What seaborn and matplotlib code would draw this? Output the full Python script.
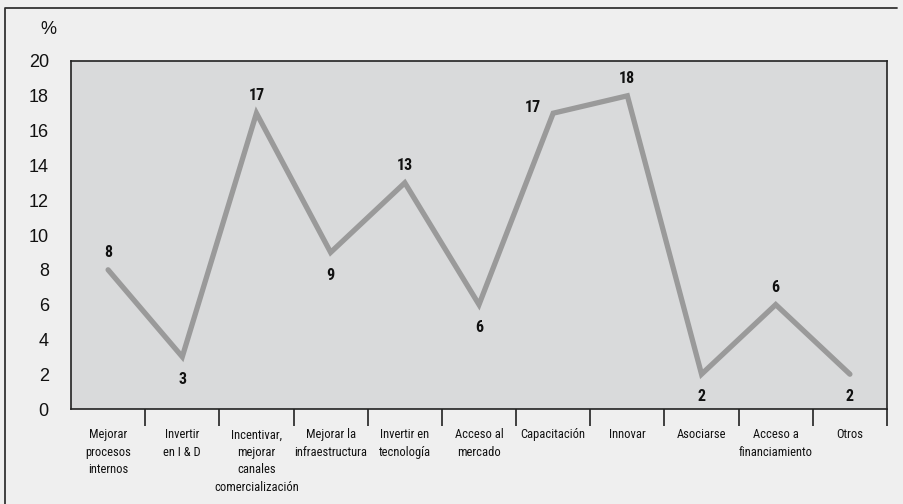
import matplotlib
matplotlib.use("Agg")
import matplotlib.pyplot as plt
from matplotlib.lines import Line2D
from matplotlib import font_manager
import seaborn as sns
import pandas as pd

# Categories and survey percentages
categorias = [
    "Mejorar\nprocesos\ninternos",
    "Invertir\nen I & D",
    "Incentivar,\nmejorar\ncanales\ncomercialización",
    "Mejorar la\ninfraestructura",
    "Invertir en\ntecnología",
    "Acceso al\nmercado",
    "Capacitación",
    "Innovar",
    "Asociarse",
    "Acceso a\nfinanciamiento",
    "Otros",
]
porcentajes = [8, 3, 17, 9, 13, 6, 17, 18, 2, 6, 2]
# Where each value label sits relative to its point
posicion_etiqueta = ["arriba", "abajo", "arriba", "abajo", "arriba", "abajo",
                     "izquierda", "arriba", "abajo", "arriba", "abajo"]
y_ticks = [0, 2, 4, 6, 8, 10, 12, 14, 16, 18, 20]

available = {f.name for f in font_manager.fontManager.ttflist}
narrow = [f for f in ["Liberation Sans Narrow", "Roboto Condensed", "Open Sans Condensed"] if f in available]
label_family = narrow + ["Liberation Sans", "DejaVu Sans"]

sns.set_theme(style="white")
plt.rcParams["font.family"] = ["Liberation Sans", "DejaVu Sans"]

df = pd.DataFrame({"pos": range(len(categorias)), "valor": porcentajes})

fig = plt.figure(figsize=(9.04, 5.04), dpi=100)
fig.patch.set_facecolor("#efefef")
ax = fig.add_axes([71 / 904, 1 - 409 / 504, 816 / 904, 348 / 504])
ax.set_facecolor("#d9dadb")

sns.lineplot(data=df, x="pos", y="valor", ax=ax, color="#9a9a9a",
             linewidth=3.8, solid_joinstyle="miter")

ax.set_xlim(-0.5, len(categorias) - 0.5)
ax.set_ylim(0, 20)
ax.set_yticks(y_ticks)
ax.set_yticklabels([str(t) for t in y_ticks], fontsize=13, color="#111111")
ax.tick_params(axis="y", length=0, pad=16)

ax.set_xticks(range(len(categorias)))
ax.set_xticklabels(categorias, fontsize=9.0, family=label_family, linespacing=1.45,
                   color="#111111", va="top")
ax.set_xticks([i + 0.5 for i in range(len(categorias))], minor=True)
ax.tick_params(axis="x", which="major", length=0, pad=14)
ax.tick_params(axis="x", which="minor", length=12, width=1.2, color="#222222",
               direction="out", bottom=True)
ax.set_xlabel("")
ax.set_ylabel("")

for s in ax.spines.values():
    s.set_visible(True)
    s.set_color("#222222")
    s.set_linewidth(1.2)

for i, (v, p) in enumerate(zip(porcentajes, posicion_etiqueta)):
    if p == "arriba":
        off, ha, va = (0, 7), "center", "bottom"
    elif p == "abajo":
        off, ha, va = (0, -11), "center", "top"
    else:
        off, ha, va = (-9, 4), "right", "center"
    ax.annotate(str(v), (i, v), xytext=off, textcoords="offset points",
                ha=ha, va=va, fontsize=11.5, fontweight="bold",
                family=label_family, color="#111111")

fig.text(48 / 904, 1 - 30 / 504, "%", fontsize=13, ha="center", va="center",
         color="#111111")

# Outer frame: left and top edges
fig.lines.append(Line2D([5 / 904, 5 / 904, 897 / 904], [0, 1 - 8 / 504, 1 - 8 / 504],
                        transform=fig.transFigure, color="#333333", linewidth=1.3))

fig.savefig("out.png", dpi=100, facecolor=fig.get_facecolor())
